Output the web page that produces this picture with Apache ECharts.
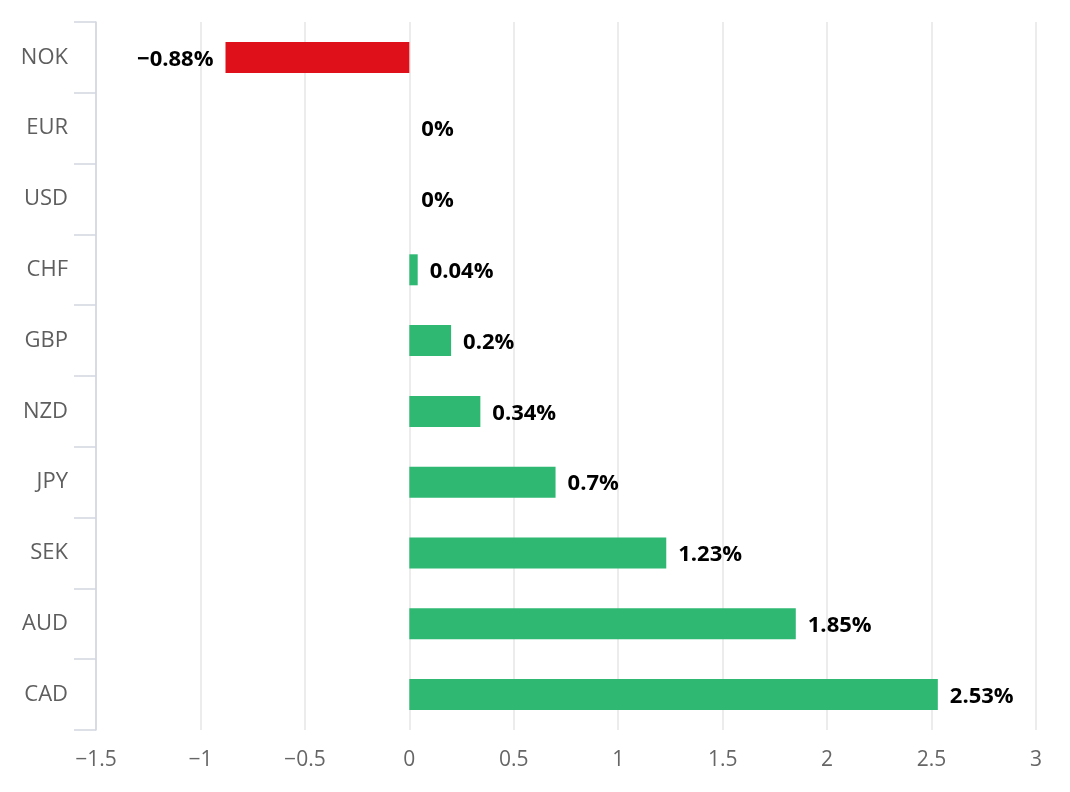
<!DOCTYPE html>
<html><head><meta charset="utf-8">
<script src="https://cdn.jsdelivr.net/npm/echarts@6/dist/echarts.min.js"></script>
<style>html,body{margin:0;padding:0;background:#fff}#c{width:1070px;height:792px}</style>
</head><body><div id="c"></div>
<script>
var categories = ['NOK','EUR','USD','CHF','GBP','NZD','JPY','SEK','AUD','CAD'];
var values = [-0.88, 0, 0, 0.04, 0.2, 0.34, 0.7, 1.23, 1.85, 2.53];
var xTicks = [-1.5, -1, -0.5, 0, 0.5, 1, 1.5, 2, 2.5, 3];
var posColor = '#2eb872', negColor = '#df1019';
function fmt(v){ return String(v).replace('-', '\u2212'); }
var data = values.map(function(v){
  return {
    value: v,
    itemStyle: { color: v < 0 ? negColor : posColor },
    label: { position: v < 0 ? 'left' : 'right' }
  };
});
var chart = echarts.init(document.getElementById('c'));
chart.setOption({
  animation: false,
  grid: { left: 96, right: 34, top: 22, bottom: 62, containLabel: false },
  xAxis: {
    type: 'value', min: xTicks[0], max: xTicks[xTicks.length-1], interval: 0.5,
    axisLine: { show: false }, axisTick: { show: false },
    splitLine: { show: true, lineStyle: { color: '#e6e6e6', width: 1.5 } },
    axisLabel: { color: '#666', fontSize: 21, fontFamily: 'Open Sans', margin: 20, formatter: function(v){ return fmt(v); } }
  },
  yAxis: {
    type: 'category', data: categories, inverse: true,
    axisLine: { show: true, onZero: false, lineStyle: { color: '#d3d6e0', width: 1.5 } },
    axisTick: { show: true, length: 22, lineStyle: { color: '#d3d6e0', width: 1.5 } },
    axisLabel: { color: '#5e5e5e', fontSize: 22, fontFamily: 'Open Sans', margin: 28 }
  },
  series: [{
    type: 'bar', data: data, barWidth: 31,
    label: { show: true, distance: 12, color: '#000', fontWeight: 'bold', fontSize: 22, fontFamily: 'Open Sans',
      offset: [0, 2],
      formatter: function(p){ return fmt(p.value) + '%'; } }
  }]
});
</script></body></html>
